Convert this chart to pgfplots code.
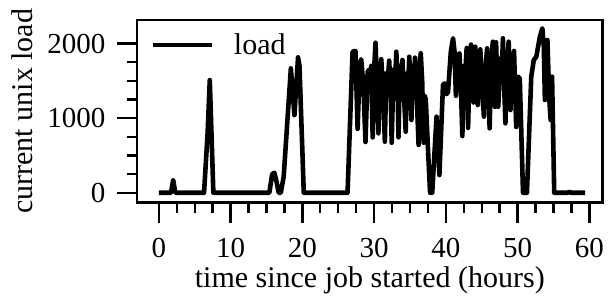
\documentclass[border=0pt]{standalone}
\usepackage{fontspec}
\setmainfont{Liberation Serif}
\usepackage{pgfplots}
\pgfplotsset{compat=1.18}
\begin{document}
\begin{tikzpicture}
\path[use as bounding box] (-68.65pt,-49.75pt) rectangle (236.85pt,101.25pt);
\begin{axis}[
  scale only axis, width=232.5pt, height=91.25pt,
  at={(0,0)}, anchor=south west,
  xmin=-3, xmax=61.8, ymin=-131, ymax=2315,
  xtick={0,10,...,60}, ytick={0,1000,2000},
  minor x tick num=3, minor y tick num=3,
  xtick pos=bottom, ytick pos=left,
  tick align=outside,
  major tick length=10.25pt, minor tick length=5.25pt,
  every tick/.style={black, line width=1.2pt},
  axis line style={line width=1.2pt},
  /pgf/number format/assume math mode=true,
  /pgf/number format/1000 sep={},
  tick label style={font=\fontsize{14.5pt}{16pt}\selectfont, inner sep=0pt},
  xticklabel shift=7.3pt, yticklabel shift=5.5pt,
  label style={font=\fontsize{15pt}{17pt}\selectfont},
  xlabel={time since job started (hours)},
  ylabel={current unix load},
  xlabel style={at={(axis description cs:0.5,-0.463)}, anchor=base},
  ylabel style={at={(axis description cs:-0.2243,0.5)}, anchor=base},
  legend style={draw=none, fill=none, at={(axis description cs:0.0273,0.862)}, anchor=west,
    font=\fontsize{15pt}{17pt}\selectfont, column sep=10pt, inner sep=0pt, nodes={inner sep=0pt}},
  legend image code/.code={\draw[#1] (0pt,0pt) -- (29.5pt,0pt);},
]
\addplot[black, line width=2.3pt, line join=round] coordinates {
(0,0) (1.7,0) (2,170) (2.3,0) (6.3,0) (6.8,800) (7.1,1510) (7.6,0)
(15.4,0) (15.8,250) (16.1,268) (16.4,150) (16.7,0) (17.0,0) (17.4,215) (18.4,1667) (18.9,1040) (19.4,1815) (19.6,1700) (20.2,0)
(26.3,0) (27.0,1890) (27.4,1900) (27.7,855) (28.0,1700) (28.2,1790) (28.5,1450) (28.8,680)
(29.1,1620) (29.3,1650) (29.5,1450) (29.6,1700) (29.8,742) (30.0,1650) (30.2,2010) (30.4,1400)
(30.6,796) (30.8,1600) (31.0,1790) (31.2,1450) (31.5,684) (31.7,1600) (31.9,1500) (32.1,1770)
(32.3,1400) (32.45,670) (32.7,1650) (32.9,1450) (33.1,1890) (33.25,1500) (33.4,742) (33.6,1700)
(33.8,1500) (33.95,1779) (34.1,1450) (34.4,818) (34.6,1600) (34.75,1450) (34.9,1823) (35.05,1500)
(35.2,975) (35.4,1700) (35.55,1450) (35.7,1810) (35.9,1400) (36.2,640) (36.35,1700) (36.5,1869)
(36.7,1500) (36.9,670) (37.05,1300) (37.2,1250) (37.5,600) (37.8,0) (38.1,0) (38.7,1019)
(39.1,237) (39.6,1444) (39.8,1466) (40.1,1320) (40.3,1350) (40.7,1900) (41.0,2070) (41.2,1900)
(41.4,1300) (41.7,1850) (41.9,1869) (42.1,1400) (42.3,760) (42.5,1700) (42.7,1600) (42.9,1940)
(43.1,870) (43.3,1700) (43.5,1985) (43.7,1400) (43.85,1210) (44.0,1800) (44.1,1957) (44.3,1500)
(44.45,1176) (44.6,1700) (44.8,1922) (45.0,1500) (45.3,1020) (45.5,1650) (45.75,1935) (45.9,1500)
(46.1,863) (46.3,1750) (46.55,2024) (46.7,1400) (46.85,1150) (47.0,2016) (47.15,1500) (47.3,1153)
(47.6,1800) (47.8,1600) (47.95,2070) (48.1,1500) (48.3,930) (48.5,1650) (48.75,2024) (48.9,1500)
(49.0,1109) (49.2,1700) (49.5,1900) (49.65,1400) (49.8,880) (50.05,1555) (50.3,1533) (50.75,0)
(51.3,0) (51.9,1555) (52.25,1779) (52.6,1820) (53.1,2090) (53.45,2203) (53.65,1957) (53.8,1243)
(54.15,2047) (54.4,1280) (54.6,975) (54.8,1555) (55.1,0) (57.0,0) (57.2,15) (57.4,0) (59.4,0)
};
\addlegendentry{load}
\end{axis}
\end{tikzpicture}
\end{document}
